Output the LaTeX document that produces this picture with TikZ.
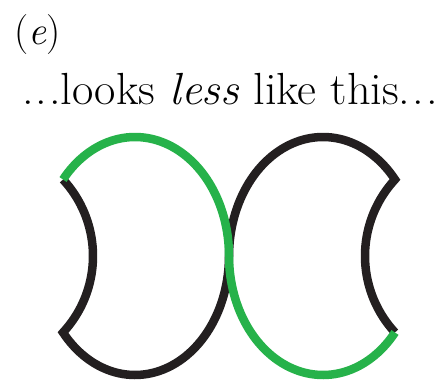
\documentclass[tikz,border=0pt]{standalone}
\usepackage{tikz}
\definecolor{cline}{RGB}{35,31,32}
\definecolor{cgreen}{RGB}{38,178,74}
\newcommand{\dotsgap}{.\kern2pt.\kern2pt.}

\begin{document}
\begin{tikzpicture}[x=1pt, y=-1pt, line width=8.5pt, line join=miter,
  label text/.style={inner sep=0, font=\fontsize{45}{48}\selectfont}]
\useasboundingbox (0,0) rectangle (443,390);
\node[label text, anchor=base west, font=\fontsize{40}{44}\selectfont] (panel) at (10,45) {(\textit{e})};
\node[label text, anchor=base, xscale=1.03] (caption) at (230,105)
  {\dotsgap{}looks \textit{less} like this\dotsgap};
\draw[cline] plot[domain=0:140, samples=60] ({135+94*cos(\x)}, {256+119*sin(\x)})
  -- plot[domain=42.8:-42.8, samples=40] ({-19.5+112.5*cos(\x)}, {256+112.5*sin(\x)});
\draw[cline] plot[domain=180:320, samples=60] ({323+94*cos(\x)}, {256+119*sin(\x)})
  -- plot[domain=222.8:137.2, samples=40] ({477.5+112.5*cos(\x)}, {256+112.5*sin(\x)});
\draw[cgreen] plot[domain=220:360, samples=60] ({135+94*cos(\x)}, {256+119*sin(\x)})
  -- plot[domain=180:40, samples=60] ({323+94*cos(\x)}, {256+119*sin(\x)});
\end{tikzpicture}
\end{document}
